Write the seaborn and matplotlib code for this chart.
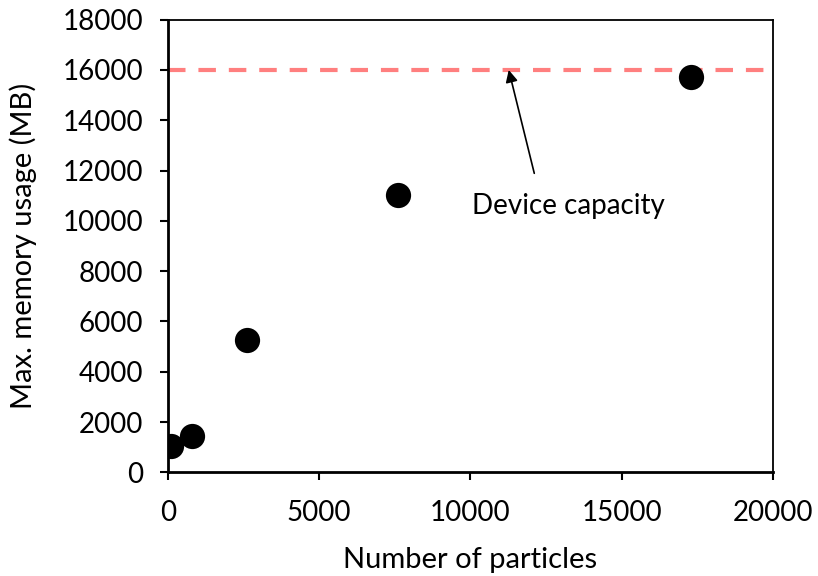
import matplotlib
matplotlib.use("Agg")
import matplotlib.pyplot as plt
import seaborn as sns
import pandas as pd

particles = [90, 783, 2623, 7606, 17295]
memory_mb = [1058, 1444, 5250, 11030, 15736]
capacity_mb = 16000
x_ticks = [0, 5000, 10000, 15000, 20000]
y_ticks = [0, 2000, 4000, 6000, 8000, 10000, 12000, 14000, 16000, 18000]

sns.set_theme(style="ticks")
plt.rcParams['font.family'] = ['Lato', 'DejaVu Sans']

df = pd.DataFrame({"particles": particles, "memory": memory_mb})

fig = plt.figure(figsize=(8.18, 5.76), dpi=100)
ax = fig.add_axes([0.2054, 0.18, 0.7392, 0.7858])

ax.axhline(capacity_mb, color="#FF7F7F", lw=3, dashes=(4.2, 3.1), zorder=1)
sns.scatterplot(data=df, x="particles", y="memory", ax=ax, color="black",
                s=330, edgecolor="black", linewidth=0, zorder=3)

ax.set_xlim(0, 20000)
ax.set_ylim(0, 18000)
ax.set_xticks(x_ticks)
ax.set_yticks(y_ticks)
ax.tick_params(axis="both", labelsize=20, length=6, width=1.5, color="black", labelcolor="black")
ax.tick_params(axis="x", pad=14)
ax.tick_params(axis="y", pad=12)
ax.set_xlabel("Number of particles", fontsize=21, labelpad=15, color="black")
ax.set_ylabel("Max. memory usage (MB)", fontsize=21, labelpad=18, color="black")

for side in ["left", "bottom"]:
    ax.spines[side].set_linewidth(2)
    ax.spines[side].set_color("black")
for side in ["top", "right"]:
    ax.spines[side].set_visible(True)
    ax.spines[side].set_linewidth(1.3)
    ax.spines[side].set_color("black")

ax.annotate("Device capacity", xy=(11270, capacity_mb), xytext=(13230, 10600),
            fontsize=20, ha="center", va="center", color="black",
            arrowprops=dict(arrowstyle="-|>", color="black", lw=1.2,
                            mutation_scale=18, shrinkA=12, shrinkB=0,
                            relpos=(0.35, 1.0)))

fig.savefig("out.png", dpi=100)
